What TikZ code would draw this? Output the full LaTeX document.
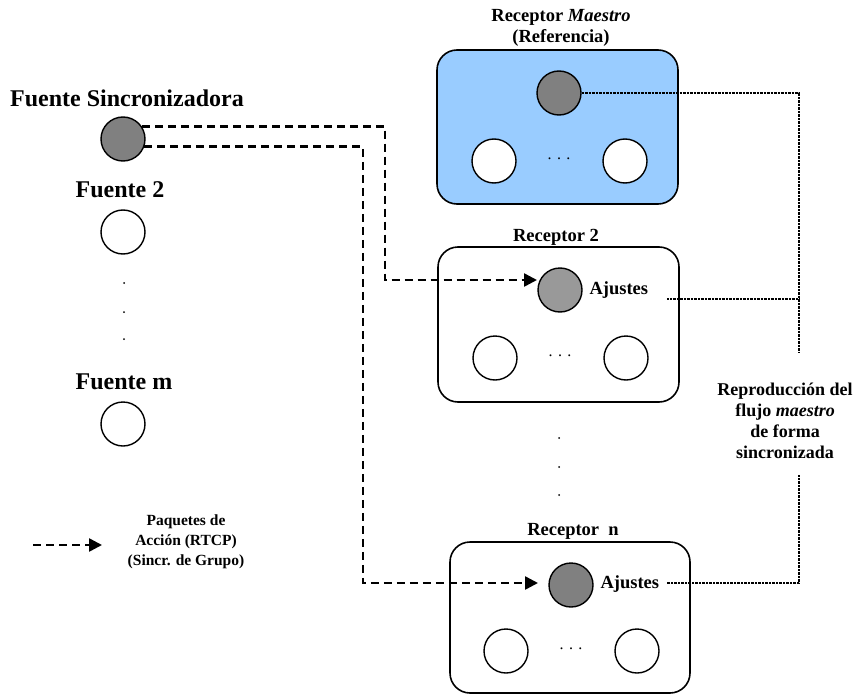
\documentclass[tikz,border=0pt]{standalone}
\usepackage{fontspec}
\setmainfont{Liberation Serif}
\usetikzlibrary{arrows.meta,calc}
\definecolor{masterblue}{HTML}{99CCFF}
\definecolor{darknode}{HTML}{808080}
\definecolor{lightnode}{HTML}{999999}
\begin{document}
\begin{tikzpicture}[x=1pt,y=-1pt,
  big/.style={font=\fontsize{24}{28}\selectfont\bfseries},
  mid/.style={font=\fontsize{18.5}{20.5}\selectfont\bfseries},
  small/.style={font=\fontsize{15.5}{20}\selectfont\bfseries},
  rxbox/.style={draw,line width=1.6pt,rounded corners=20pt},
  flow/.style={circle,draw,line width=1.4pt,minimum size=44pt,inner sep=0pt,fill=white},
  srcflow/.style={flow,fill=darknode},
  dotsh/.style={font=\fontsize{16}{16}\selectfont,inner sep=0pt},
  dotv/.style={circle,fill=black,inner sep=0pt,minimum size=2pt},
  pkt/.style={line width=2.5pt,dash pattern=on 8pt off 5pt,-{Triangle[length=13pt,width=13pt]}},
  sync/.style={line width=1.7pt,dash pattern=on 1pt off 0.4pt}]
\useasboundingbox (0,0) rectangle (858,695);

% ---- sources ----
\node[big] (lsrc) at (127,98) {Fuente Sincronizadora};
\node[srcflow] (src) at (123,139) {};
\node[big] (lf2) at (120,190) {Fuente 2};
\node[flow] (f2) at (123,232) {};
\node[dotv] (sd1) at (124,283) {};
\node[dotv] (sd2) at (124,312) {};
\node[dotv] (sd3) at (124,339) {};
\node[big] (lfm) at (124,382) {Fuente m};
\node[flow] (fm) at (123,424) {};

% ---- master receiver ----
\node[mid,align=center] (lmaster) at (561,28) {Receptor \textit{Maestro}\\(Referencia)};
\draw[rxbox,fill=masterblue] (437,50) rectangle (678,204);
\node[srcflow] (mg) at (559,93) {};
\node[flow] (m1) at (494,161) {};
\node[flow] (m2) at (625,161) {};
\node[dotsh] (md) at (559,159) {. . .};

% ---- receiver 2 ----
\node[mid] (lr2) at (556,237) {Receptor 2};
\draw[rxbox] (438,247) rectangle (679,402);
\node[srcflow,fill=lightnode] (r2g) at (560,290) {};
\node[mid,anchor=west] (r2aj) at (586,290) {Ajustes};
\node[flow] (r21) at (495,358) {};
\node[flow] (r22) at (626,358) {};
\node[dotsh] (r2d) at (560,356) {. . .};

% ---- vertical dots between receivers ----
\node[dotv] (rd1) at (559,438) {};
\node[dotv] (rd2) at (559,467) {};
\node[dotv] (rd3) at (559,495) {};

% ---- receiver n ----
\node[mid] (lrn) at (573,531) {Receptor\ \ n};
\draw[rxbox] (450,542) rectangle (690,693);
\node[srcflow] (rng) at (571,585) {};
\node[mid,anchor=west] (rnaj) at (597,584) {Ajustes};
\node[flow] (rn1) at (506,651) {};
\node[flow] (rn2) at (637,651) {};
\node[dotsh] (rnd) at (571,649) {. . .};

% ---- playback label ----
\node[font=\fontsize{18}{21}\selectfont\bfseries,align=center] (lplay) at (785,421)
  {Reproducción del\\flujo \textit{maestro}\\de forma\\sincronizada};

% ---- action packets (dashed) ----
\coordinate (r2in) at (537,280);
\coordinate (rnin) at (538,583);
\draw[pkt] (src.33) -| (385,280) -- (r2in);
\draw[pkt] (src.-19) -| (363,583) -- (rnin);

% ---- synchronized playback (dotted) ----
\coordinate (r2out) at (667,299);
\coordinate (rnout) at (667,583);
\coordinate (brkTop) at (799,352);
\coordinate (brkBot) at (799,475);
\draw[sync] (mg.east) -| (brkTop);
\draw[sync] (r2out) -- (799,299);
\draw[sync] (brkBot) |- (rnout);

% ---- legend ----
\coordinate (lgA) at (33,545);
\coordinate (lgB) at (102,545);
\draw[pkt] (lgA) -- (lgB);
\node[small,align=center] (lgtext) at (186,542) {Paquetes de\\Acción (RTCP)\\(Sincr. de Grupo)};
\end{tikzpicture}
\end{document}
